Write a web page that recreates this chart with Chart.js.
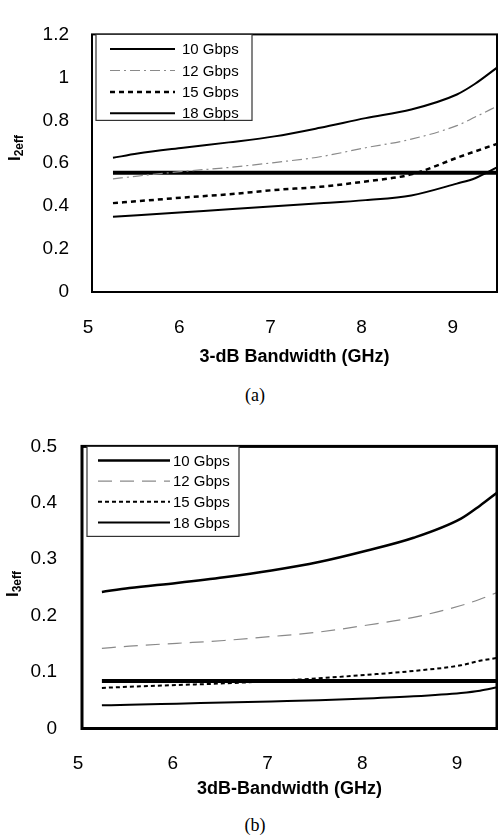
<!DOCTYPE html>
<html>
<head>
<meta charset="utf-8">
<script src="https://cdn.jsdelivr.net/npm/chart.js@4.4.1/dist/chart.umd.min.js"></script>
<style>
  body { margin: 0; background: #fff; width: 498px; height: 840px; position: relative; overflow: hidden; font-family: "Liberation Sans", Arial, sans-serif; }
  .wrap { position: absolute; left: 0; width: 498px; }
  #wrapA { top: 0; height: 380px; }
  #wrapB { top: 410px; height: 400px; }
  .ytitle { position: absolute; transform: translate(-50%, -50%) rotate(-90deg); font-weight: bold; font-size: 17px; white-space: nowrap; color: #000; }
  .ytitle sub { font-size: 12px; vertical-align: -3px; }
  .cap { position: absolute; transform: translate(-50%, -50%); font-family: "Liberation Serif", "Times New Roman", serif; font-size: 18px; color: #000; }
</style>
</head>
<body>
<div class="wrap" id="wrapA"><canvas id="chartA" width="498" height="380"></canvas></div>
<div class="wrap" id="wrapB"><canvas id="chartB" width="498" height="400"></canvas></div>
<div class="ytitle" style="left:15px;top:148px">I<sub>2eff</sub></div>
<div class="ytitle" style="left:13px;top:584px">I<sub>3eff</sub></div>
<div class="cap" style="left:255px;top:395px">(a)</div>
<div class="cap" style="left:255px;top:825px">(b)</div>
<script>
// (a) I2eff vs 3-dB bandwidth
const bwA = [5.23, 5.5, 6, 6.5, 7, 7.5, 8, 8.5, 9, 9.2, 9.44];
const i2eff10 = [0.625, 0.645, 0.672, 0.697, 0.725, 0.765, 0.81, 0.85, 0.92, 0.97, 1.045];
const i2eff12 = [0.527, 0.54, 0.562, 0.58, 0.603, 0.63, 0.672, 0.712, 0.775, 0.815, 0.865];
const i2eff15 = [0.414, 0.423, 0.44, 0.455, 0.475, 0.49, 0.515, 0.548, 0.625, 0.655, 0.69];
const i2eff18 = [0.35, 0.358, 0.372, 0.385, 0.4, 0.413, 0.428, 0.45, 0.505, 0.53, 0.58];
const limitA = [0.555, 0.555];

// (b) I3eff vs 3dB bandwidth
const bwB = [5.21, 5.5, 6, 6.5, 7, 7.5, 8, 8.5, 9, 9.2, 9.38];
const i3eff10 = [0.242, 0.249, 0.258, 0.268, 0.28, 0.295, 0.315, 0.338, 0.372, 0.395, 0.418];
const i3eff12 = [0.142, 0.146, 0.151, 0.156, 0.163, 0.171, 0.183, 0.197, 0.218, 0.229, 0.241];
const i3eff15 = [0.072, 0.074, 0.077, 0.08, 0.084, 0.089, 0.095, 0.102, 0.112, 0.12, 0.125];
const i3eff18 = [0.041, 0.042, 0.044, 0.046, 0.048, 0.05, 0.053, 0.057, 0.063, 0.067, 0.073];
const limitB = [0.084, 0.084];

const rates = ['10 Gbps', '12 Gbps', '15 Gbps', '18 Gbps'];
const xTicks = [5, 6, 7, 8, 9];
const yTicksA = [0, 0.2, 0.4, 0.6, 0.8, 1, 1.2];
const yTicksB = [0, 0.1, 0.2, 0.3, 0.4, 0.5];

const FAMILY = '"Liberation Sans", Arial, sans-serif';
Chart.defaults.color = '#000';
Chart.defaults.font.family = FAMILY;

function series(xs, ys) {
  return xs.map((x, i) => ({ x: x, y: ys[i] }));
}

function line(label, data, width, dash, color) {
  return {
    label: label,
    data: data,
    borderColor: color || '#000',
    borderWidth: width,
    borderDash: dash || [],
    pointRadius: 0,
    fill: false,
    cubicInterpolationMode: 'monotone'
  };
}

// plot frame
const frame = {
  id: 'frame',
  afterDatasetsDraw(chart, args, opts) {
    const { ctx, chartArea: a } = chart;
    ctx.save();
    ctx.strokeStyle = '#000';
    ctx.lineWidth = opts.width;
    ctx.strokeRect(a.left, a.top, a.right - a.left, a.bottom - a.top);
    ctx.restore();
  }
};

// boxed legend inside the plot, top-left
const boxLegend = {
  id: 'boxLegend',
  afterDraw(chart, args, o) {
    const { ctx, chartArea: a } = chart;
    const x0 = a.left + o.dx, y0 = a.top;
    ctx.save();
    ctx.fillStyle = '#fff';
    ctx.fillRect(x0, y0, o.w, o.h);
    ctx.strokeStyle = '#333';
    ctx.lineWidth = 1.2;
    ctx.strokeRect(x0, y0, o.w, o.h);
    const items = chart.data.datasets.filter(d => d.label);
    items.forEach((d, i) => {
      const y = y0 + o.first + i * o.step;
      ctx.setLineDash(d.borderDash || []);
      ctx.strokeStyle = d.borderColor;
      ctx.lineWidth = d.borderWidth;
      ctx.beginPath();
      ctx.moveTo(x0 + o.lineX, y);
      ctx.lineTo(x0 + o.lineX + o.lineW, y);
      ctx.stroke();
      ctx.setLineDash([]);
      ctx.fillStyle = '#000';
      ctx.font = '15px ' + FAMILY;
      ctx.textBaseline = 'middle';
      ctx.fillText(d.label, x0 + o.textX, y + 1);
    });
    ctx.restore();
  }
};

const fmt = v => String(Math.round(v * 100) / 100);

function makeChart(id, cfg) {
  return new Chart(document.getElementById(id), {
    type: 'line',
    data: { datasets: cfg.datasets },
    plugins: [frame, boxLegend],
    options: {
      responsive: false,
      animation: false,
      layout: { padding: { top: cfg.top, right: 1, left: 0, bottom: 0 } },
      plugins: {
        legend: { display: false },
        tooltip: { enabled: false },
        frame: { width: cfg.frameWidth },
        boxLegend: cfg.legend
      },
      scales: {
        x: {
          type: 'linear',
          min: 5,
          max: cfg.xMax,
          grid: { display: false, drawTicks: false },
          border: { display: false },
          ticks: { padding: 24, labelOffset: -4, font: { size: 19 }, callback: fmt },
          afterBuildTicks: s => { s.ticks = xTicks.map(v => ({ value: v })); },
          afterFit: s => { s.height = cfg.xHeight; },
          title: {
            display: true,
            text: cfg.xTitle,
            font: { size: 18, weight: 'bold' },
            padding: { top: 0, bottom: cfg.titlePad }
          }
        },
        y: {
          min: cfg.yTicks[0],
          max: cfg.yTicks[cfg.yTicks.length - 1],
          grid: { display: false, drawTicks: false },
          border: { display: false },
          ticks: { padding: cfg.yPad, font: { size: 19 }, callback: fmt },
          afterBuildTicks: s => { s.ticks = cfg.yTicks.map(v => ({ value: v })); },
          afterFit: s => { s.width = cfg.yWidth; }
        }
      }
    }
  });
}

makeChart('chartA', {
  top: 14, xHeight: 88, yWidth: 92, yPad: 23, titlePad: 12, frameWidth: 2,
  xMax: bwA[bwA.length - 1],
  xTitle: '3-dB Bandwidth (GHz)',
  yTicks: yTicksA,
  legend: { dx: 4, w: 156, h: 86, first: 14.7, step: 21.4, lineX: 14, lineW: 65, textX: 86 },
  datasets: [
    line(rates[0], series(bwA, i2eff10), 2),
    line(rates[1], series(bwA, i2eff12), 1.2, [10, 4, 2, 4], '#8a8a8a'),
    line(rates[2], series(bwA, i2eff15), 2.5, [5, 4]),
    line(rates[3], series(bwA, i2eff18), 2),
    line('', series([bwA[0], bwA[bwA.length - 1]], limitA), 4)
  ]
});

makeChart('chartB', {
  top: 33, xHeight: 81.5, yWidth: 82, yPad: 25, titlePad: 10, frameWidth: 3,
  xMax: bwB[bwB.length - 1],
  xTitle: '3dB-Bandwidth (GHz)',
  yTicks: yTicksB,
  legend: { dx: 5, w: 152, h: 90, first: 14, step: 20.7, lineX: 11, lineW: 72, textX: 86 },
  datasets: [
    line(rates[0], series(bwB, i3eff10), 2.5),
    line(rates[1], series(bwB, i3eff12), 1.2, [14, 8], '#8a8a8a'),
    line(rates[2], series(bwB, i3eff15), 2, [4, 3]),
    line(rates[3], series(bwB, i3eff18), 2),
    line('', series([bwB[0], bwB[bwB.length - 1]], limitB), 4)
  ]
});
</script>
</body>
</html>
